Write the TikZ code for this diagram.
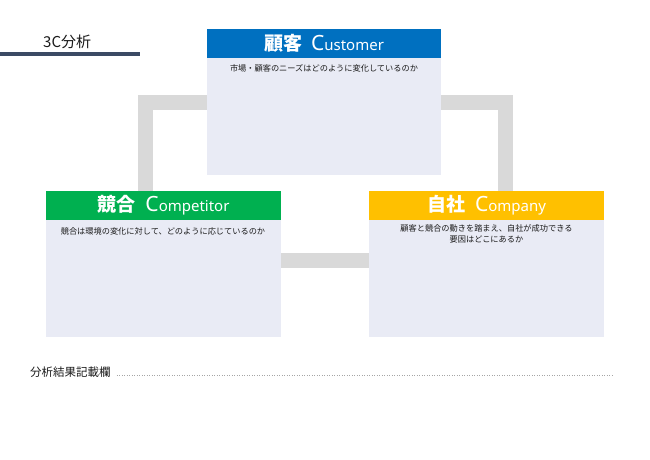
\documentclass[tikz,border=0pt]{standalone}
\usepackage{fontspec}
\setmainfont{Noto Sans CJK JP}
\newfontfamily\latinfont{Noto Sans}
\definecolor{cblue}{HTML}{0070C0}
\definecolor{cgreen}{HTML}{00B050}
\definecolor{cgold}{HTML}{FFC000}
\definecolor{cbody}{HTML}{E9EBF5}
\definecolor{cbar}{HTML}{D9D9D9}
\definecolor{cnavy}{HTML}{3B4A64}
\definecolor{ctext}{HTML}{1A1A1A}
\begin{document}
\begin{tikzpicture}[x=1pt,y=-1pt,
  bodybox/.style={draw=none,fill=cbody,inner sep=0pt,outer sep=0pt,anchor=north west,minimum width=#1},
  hdrbox/.style={draw=none,inner sep=0pt,outer sep=0pt,anchor=north west,minimum height=29pt},
  hdrtext/.style={text=white,inner sep=0pt},
  bodytext/.style={text=ctext,inner sep=0pt,font=\fontsize{8.2}{10.5}\selectfont,align=center},
  bar/.style={draw=cbar,line width=15pt,line cap=butt,line join=miter}]
\useasboundingbox (0,0) rectangle (650,459);
\fill[white] (0,0) rectangle (650,459);
% title
\node[anchor=west,inner sep=0pt,font=\fontsize{15}{15}\selectfont,text=ctext] (title) at (43,42) {3C分析};
\coordinate (tl0) at (0,54);
\coordinate (tl1) at (140,54);
\draw[cnavy,line width=3.5pt] (tl0) -- (tl1);
% customer
\node[bodybox=234pt,minimum height=146pt] (cust) at (207,29) {};
\node[hdrbox,fill=cblue,minimum width=234pt] (custh) at (207,29) {};
\node[hdrtext] at (custh.center) {{\bfseries\fontsize{19}{19}\selectfont 顧客}\hspace{9pt}{\latinfont\fontsize{21}{21}\selectfont C}{\latinfont\fontsize{15}{15}\selectfont ustomer}};
\node[bodytext] at (324,68) {市場・顧客のニーズはどのように変化しているのか};
% competitor
\node[bodybox=235pt,minimum height=146pt] (comp) at (46,191) {};
\node[hdrbox,fill=cgreen,minimum width=235pt] (comph) at (46,191) {};
\node[hdrtext] at (comph.center) {{\bfseries\fontsize{19}{19}\selectfont 競合}\hspace{10pt}{\latinfont\fontsize{21}{21}\selectfont C}{\latinfont\fontsize{15}{15}\selectfont ompetitor}};
\node[bodytext] at (163,231) {競合は環境の変化に対して、どのように応じているのか};
% company
\node[bodybox=235pt,minimum height=146pt] (compy) at (369,191) {};
\node[hdrbox,fill=cgold,minimum width=235pt] (compyh) at (369,191) {};
\node[hdrtext] at (compyh.center) {{\bfseries\fontsize{19}{19}\selectfont 自社}\hspace{10pt}{\latinfont\fontsize{21}{21}\selectfont C}{\latinfont\fontsize{15}{15}\selectfont ompany}};
\node[bodytext] at (486.5,234) {顧客と競合の動きを踏まえ、自社が成功できる\\要因はどこにあるか};
% connectors
\coordinate (lt) at (145.5,102.5);
\coordinate (rt) at (505.5,102.5);
\coordinate (bt) at (0,260.5);
\draw[bar] (comp.north -| lt) -- (lt) -- (cust.west |- lt);
\draw[bar] (cust.east |- rt) -- (rt) -- (compy.north -| rt);
\draw[bar] (comp.east |- bt) -- (compy.west |- bt);
% bottom label
\node[anchor=west,inner sep=0pt,font=\fontsize{11.5}{11.5}\selectfont,text=ctext] (lbl) at (30,372) {分析結果記載欄};
\coordinate (dend) at (612,375);
\draw[gray!70,line width=0.8pt,dash pattern=on 0.9pt off 1.6pt] ([xshift=6pt,yshift=-3pt]lbl.east) -- (dend);
\end{tikzpicture}
\end{document}
